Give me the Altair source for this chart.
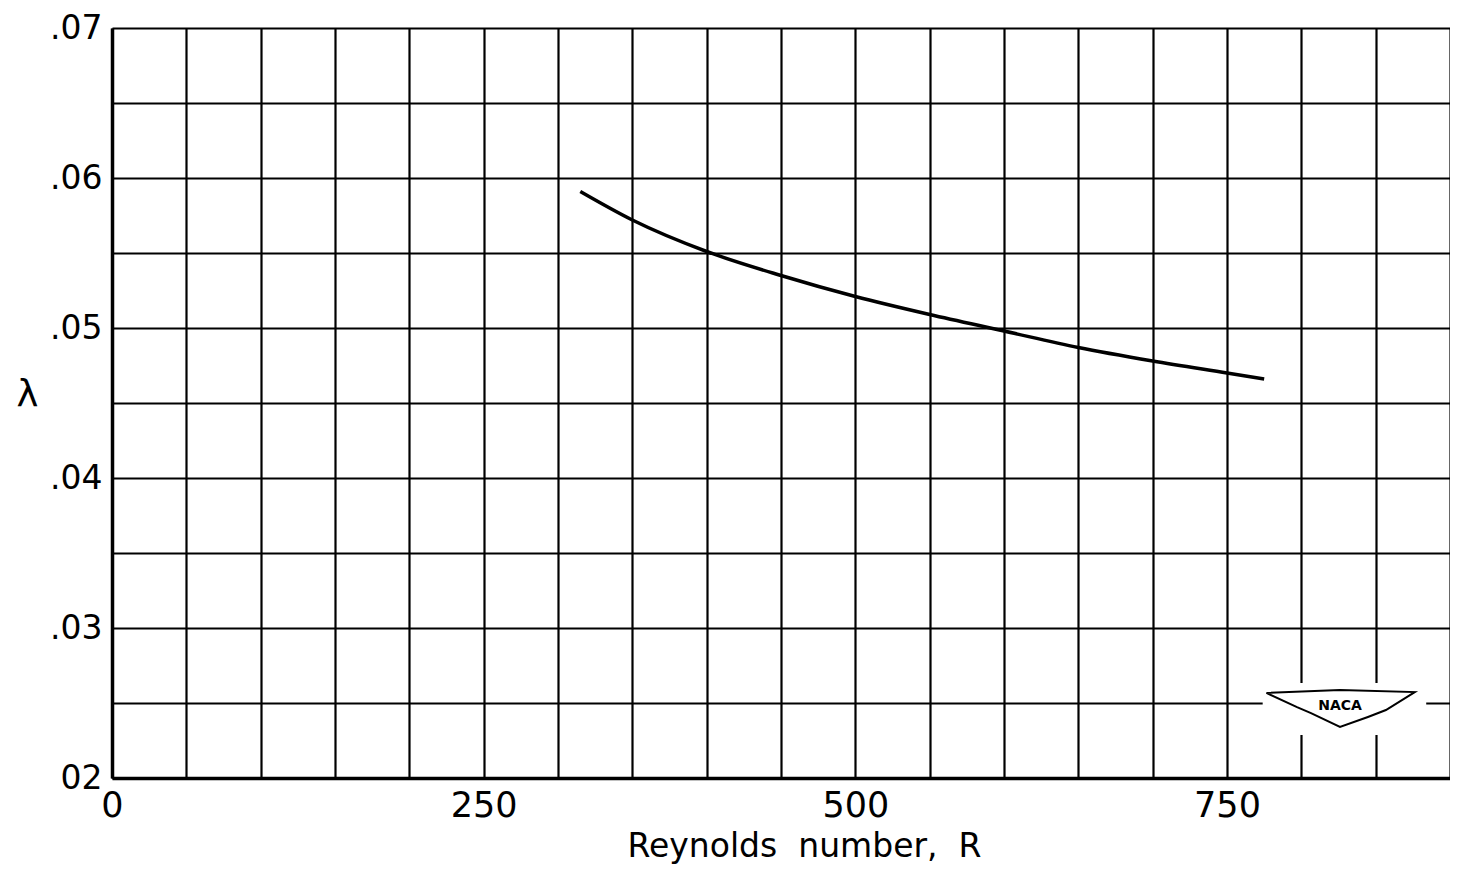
import altair as alt
import pandas as pd

# Curve
reynolds = [315, 350, 400, 450, 500, 550, 600, 650, 700, 750, 775]
lam = [0.0591, 0.0572, 0.0551, 0.0535, 0.0521, 0.0509, 0.0498, 0.0487, 0.0478, 0.0470, 0.0466]

x_grid = list(range(0, 901, 50))
y_grid = [0.02, 0.025, 0.03, 0.035, 0.04, 0.045, 0.05, 0.055, 0.06, 0.065, 0.07]

# NACA badge (decoration) in data units
badge_box_x = [774]
badge_box_x2 = [884]
badge_box_y = [0.02633]
badge_box_y2 = [0.02287]
wing_x = [776.5, 826.0, 876.3, 856.9, 844.8, 826.0, 806.5, 797.1, 776.5]
wing_y = [0.02567, 0.02587, 0.02573, 0.02453, 0.02407, 0.0234, 0.02433, 0.02473, 0.02567]
badge_text_x = [826.0]
badge_text_y = [0.0248]

FONT = "DejaVu Sans"

curve_df = pd.DataFrame({"R": reynolds, "lam": lam})
xs = alt.Scale(domain=[0, 900], nice=False, zero=False)
ys = alt.Scale(domain=[0.02, 0.07], nice=False, zero=False)

curve = alt.Chart(curve_df).mark_line(
    color="black", strokeWidth=3.5, interpolate="monotone"
).encode(
    x=alt.X("R:Q", scale=xs, axis=alt.Axis(
        values=x_grid,
        labelExpr="datum.value % 250 == 0 ? datum.label : ''",
        title="Reynolds\u00a0 number,\u00a0 R",
        titleX=692, titleY=78, titleAnchor="start", titleAlign="center",
        titleBaseline="alphabetic", titleFontSize=33,
        labelPadding=10, labelFontSize=35,
        labelFlush=False,
    )),
    y=alt.Y("lam:Q", scale=ys, axis=alt.Axis(
        values=y_grid,
        labelExpr="abs(datum.value*100 - round(datum.value*100)) < 0.01 ? (datum.value < 0.021 ? '02' : replace(format(datum.value, '.2f'), '0.', '.')) : ''",
        title="λ",
        titleAngle=0, titleX=-85, titleY=367, titleAlign="center",
        titleBaseline="middle", titleFontSize=37,
        labelPadding=10, labelFontSize=33,
        labelFlush=False,
    )),
)

box_df = pd.DataFrame({"x": badge_box_x, "x2": badge_box_x2, "y": badge_box_y, "y2": badge_box_y2})
box = alt.Chart(box_df).mark_rect(color="white").encode(
    x=alt.X("x:Q", scale=xs), x2="x2:Q",
    y=alt.Y("y:Q", scale=ys), y2="y2:Q",
)

wing_df = pd.DataFrame({"x": wing_x, "y": wing_y, "o": list(range(len(wing_x)))})
wing = alt.Chart(wing_df).mark_line(color="black", strokeWidth=2).encode(
    x=alt.X("x:Q", scale=xs),
    y=alt.Y("y:Q", scale=ys),
    order="o:Q",
)

txt_df = pd.DataFrame({"x": badge_text_x, "y": badge_text_y, "t": ["NACA"]})
badge_txt = alt.Chart(txt_df).mark_text(
    font=FONT, fontSize=14, color="black", fontWeight="bold"
).encode(
    x=alt.X("x:Q", scale=xs),
    y=alt.Y("y:Q", scale=ys),
    text="t:N",
)

chart = alt.layer(curve, box, wing, badge_txt).properties(
    width=1338, height=750,
    autosize=alt.AutoSizeParams(type="none"),
    padding={"left": 104, "top": 20, "right": 0, "bottom": 90},
    background="white",
).configure_view(strokeWidth=0).configure_axis(
    grid=True, gridColor="black", gridWidth=2.2, gridOpacity=1,
    domainColor="black", domainWidth=3.5,
    ticks=False,
    labelFont=FONT, labelColor="black",
    titleFont=FONT, titleColor="black", titleFontWeight="normal",
)

chart.save("out.html", embed_options={"renderer": "svg", "actions": False})
